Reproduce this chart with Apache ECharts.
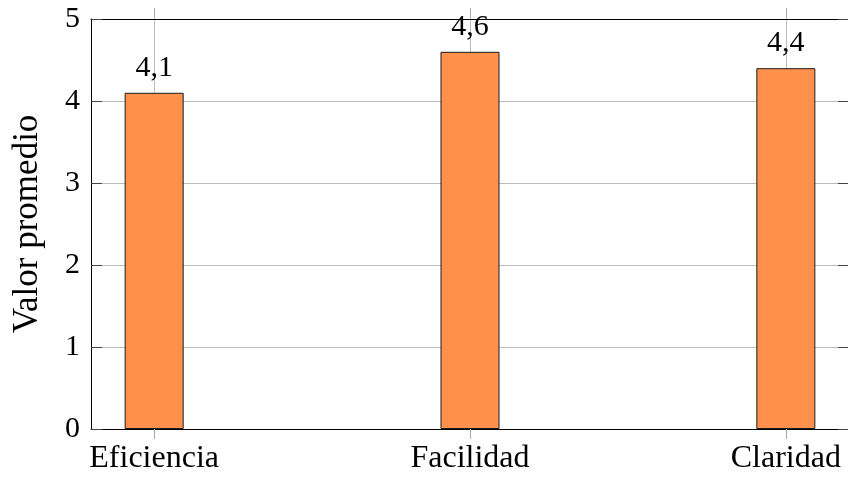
<!DOCTYPE html>
<html>
<head>
<meta charset="utf-8">
<script src="https://cdn.jsdelivr.net/npm/echarts@6/dist/echarts.min.js"></script>
<style>html,body{margin:0;padding:0;background:#fff;}#c{width:848px;height:479px;}</style>
</head>
<body>
<div id="c"></div>
<script>
var categories = ['Eficiencia', 'Facilidad', 'Claridad'];
var values = [4.1, 4.6, 4.4];
var yTicks = [0, 1, 2, 3, 4, 5];

var FONT = 'Liberation Serif';
var positions = categories.map(function (c, i) { return i; });
var barData = values.map(function (v, i) { return [i, v]; });

var chart = echarts.init(document.getElementById('c'));
chart.setOption({
  backgroundColor: '#fff',
  animation: false,
  grid: { left: 91, top: 19, bottom: 50, right: -1, containLabel: false, outerBoundsMode: 'none' },
  xAxis: [{
    type: 'value', position: 'bottom', min: -0.2, max: 2.2,
    axisLine: { show: true, onZero: false, lineStyle: { color: '#000', width: 1 } },
    axisTick: { show: true, inside: false, length: 10, customValues: positions, lineStyle: { color: '#aaa', width: 1 } },
    axisLabel: { show: true, customValues: positions, margin: 14, color: '#000', fontFamily: FONT, fontSize: 32,
      formatter: function (v) { return categories[Math.round(v)] || ''; } },
    splitLine: { show: true, lineStyle: { color: '#bdbdbd', width: 1 } }
  }, {
    type: 'value', position: 'top', min: -0.2, max: 2.2,
    axisLine: { show: true, onZero: false, lineStyle: { color: '#000', width: 1 } },
    axisTick: { show: true, inside: false, length: 11, customValues: positions, lineStyle: { color: '#aaa', width: 1 } },
    axisLabel: { show: false },
    splitLine: { show: false }
  }],
  yAxis: [{
    type: 'value', position: 'left', min: 0, max: 5, interval: 1,
    name: 'Valor promedio', nameLocation: 'middle', nameGap: 46, nameRotate: 90,
    nameTextStyle: { color: '#000', fontFamily: FONT, fontSize: 35 },
    axisLine: { show: true, onZero: false, lineStyle: { color: '#000', width: 1 } },
    axisTick: { show: true, inside: true, length: 11, lineStyle: { color: '#444', width: 1 } },
    axisLabel: { show: true, margin: 11, color: '#000', fontFamily: FONT, fontSize: 30,
      formatter: function (v) { return String(v); } },
    splitLine: { show: true, lineStyle: { color: '#bdbdbd', width: 1 } }
  }, {
    type: 'value', position: 'right', min: 0, max: 5, interval: 1,
    axisLine: { show: true, onZero: false, lineStyle: { color: '#000', width: 1 } },
    axisTick: { show: true, inside: true, length: 11, lineStyle: { color: '#444', width: 1 } },
    axisLabel: { show: false },
    splitLine: { show: false }
  }],
  series: [{
    type: 'bar', xAxisIndex: 0, yAxisIndex: 0,
    data: barData, barWidth: 59,
    itemStyle: { color: '#ff914d', borderColor: '#1a1a1a', borderWidth: 1 },
    label: { show: true, position: 'top', distance: 10, color: '#000', fontFamily: FONT, fontSize: 30,
      formatter: function (p) { return String(p.value[1]).replace('.', ','); } }
  }]
});
</script>
</body>
</html>
